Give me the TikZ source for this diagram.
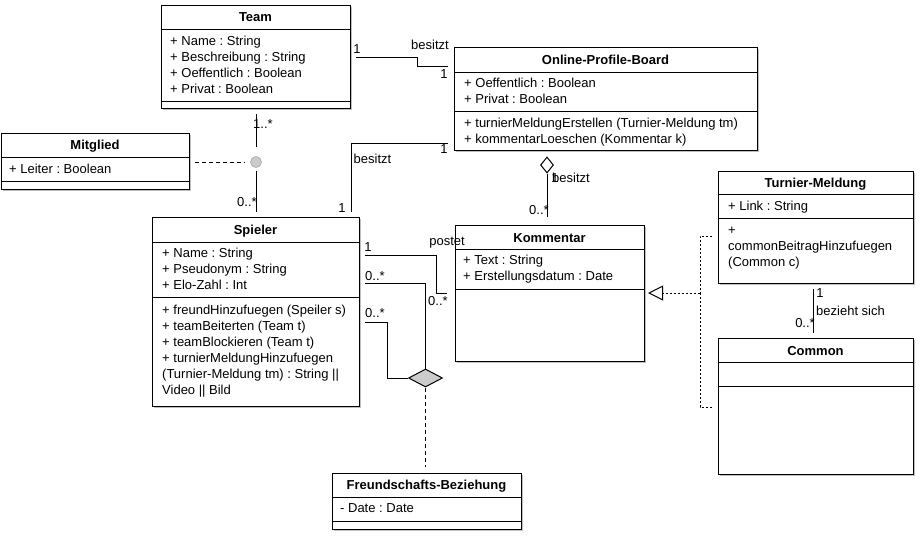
\documentclass[tikz,border=0pt]{standalone}
\usepackage{fontspec}
\setmainfont{Liberation Sans}
\usetikzlibrary{calc,shapes.geometric,arrows.meta}
\frenchspacing

\tikzset{
  clsbox/.style={rectangle, draw=black, fill=white, line width=1pt, inner sep=0pt, outer sep=0pt},
  clsrule/.style={line width=1pt},
  clsshadow/.style={fill=black!25},
  clstitle/.style={font=\fontsize{13}{16}\selectfont\bfseries, inner sep=0pt, anchor=base},
  clsitem/.style={font=\fontsize{13}{16}\selectfont, inner sep=0pt, anchor=base west},
  lbl/.style={font=\fontsize{13}{16}\selectfont, inner sep=0pt},
  assoc/.style={line width=1pt, shorten <=6pt},
  dashlink/.style={line width=1pt, dash pattern=on 4pt off 3pt},
  dotlink/.style={line width=1pt, dash pattern=on 2pt off 2pt},
  joint/.style={circle, fill=black!20, draw=black!35, line width=0.6pt, minimum size=11pt, inner sep=0pt},
  aggr/.style={diamond, draw=black, fill=white, line width=1pt, minimum width=13pt, minimum height=16pt, inner sep=0pt},
  assocdia/.style={diamond, draw=black, fill=black!20, line width=1pt, minimum width=34pt, minimum height=18pt, inner sep=0pt}
}

% class box: name, x1, y1, x2, y2, header rule y, attribute rule y, title, title baseline
\newcommand\umlclass[9]{%
  \fill[clsshadow] (#2+2,#3+2) rectangle (#4+2,#5+2);
  \node[clsbox, minimum width={(#4)-(#2)}, minimum height={(#5)-(#3)}] (#1) at ({(#2+#4)/2},{(#3+#5)/2}) {};
  \draw[clsrule] (#2,#6) -- (#4,#6) (#2,#7) -- (#4,#7);
  \node[clstitle] (#1-title) at ({(#2+#4)/2},#9) {#8};
}
% compartment lines: name prefix, x, first baseline, list of lines
\newcommand\umlitems[4]{%
  \foreach \txt [count=\i] in {#4} {
    \node[clsitem] (#1-\i) at (#2,{#3+16*(\i-1)}) {\txt};
  }
}

\begin{document}
\begin{tikzpicture}[x=1pt,y=-1pt]
\fill[white] (0,0) rectangle (916,538);
\useasboundingbox (0,0) rectangle (916,538);

% classes
\umlclass{team}{161}{5}{350}{108}{29}{101}{Team}{21.5}
\umlitems{team-a}{170}{45.5}{{+ Name : String},{+ Beschreibung : String},{+ Oeffentlich : Boolean},{+ Privat : Boolean}}

\umlclass{opb}{454}{47}{757}{150}{72}{111}{Online-Profile-Board}{64}
\umlitems{opb-a}{464}{87.5}{{+ Oeffentlich : Boolean},{+ Privat : Boolean}}
\umlitems{opb-o}{464}{127.5}{{+ turnierMeldungErstellen (Turnier-Meldung tm)},{+ kommentarLoeschen (Kommentar k)}}

\umlclass{mitglied}{1}{133}{189}{189}{157}{181}{Mitglied}{149}
\umlitems{mitglied-a}{9}{173}{{+ Leiter : Boolean}}

\umlclass{spieler}{152}{217}{359}{406}{242}{297}{Spieler}{234}
\umlitems{spieler-a}{162}{257.5}{{+ Name : String},{+ Pseudonym : String},{+ Elo-Zahl : Int}}
\umlitems{spieler-o}{162}{314}{{+ freundHinzufuegen (Speiler s)},{+ teamBeiterten (Team t)},{+ teamBlockieren (Team t)},{+ turnierMeldungHinzufuegen},{(Turnier-Meldung tm) : String ||},{Video || Bild}}

\umlclass{kommentar}{455}{225}{644}{361}{249}{289}{Kommentar}{242}
\umlitems{kommentar-a}{463}{264.5}{{+ Text : String},{+ Erstellungsdatum : Date}}

\umlclass{turnier}{718}{171}{913}{283}{194}{218}{Turnier-Meldung}{187}
\umlitems{turnier-a}{728}{210.5}{{+ Link : String}}
\umlitems{turnier-o}{728}{234}{{+},{commonBeitragHinzufuegen},{(Common c)}}

\umlclass{common}{718}{338}{913}{474}{362}{386}{Common}{355}

\umlclass{freund}{332}{473}{521}{529}{497}{521}{Freundschafts-Beziehung}{489}
\umlitems{freund-a}{340}{512.5}{{- Date : Date}}

% connector glyphs
\node[joint] (mjoint) at (256,162) {};
\node[aggr] (opbagg) at (547,165) {};
\node[assocdia] (frdia) at (425.5,378) {};
\coordinate (realjoin) at (700,293);

% Team -- Online-Profile-Board
\draw[assoc, shorten >=6pt] (team.east |- 0,57) -- (417,57) -- (417,66) -- (opb.west |- 0,66);
\node[lbl] (l-t1) at (357,49) {1};
\node[lbl] (l-t2) at (430,45) {besitzt};
\node[lbl] (l-t3) at (444,74) {1};

% Online-Profile-Board -- Spieler
\draw[assoc, shorten >=5pt] (opb.west |- 0,143) -| (spieler.north -| 351,0);
\node[lbl] (l-s1) at (444,149) {1};
\node[lbl] (l-s2) at (372.5,159) {besitzt};
\node[lbl] (l-s3) at (342,208) {1};

% Team -- Spieler with association class Mitglied
\draw[assoc, shorten >=9pt] (team.south -| mjoint) -- (mjoint);
\draw[line width=1pt, shorten <=3pt, shorten >=5pt] (mjoint) -- (spieler.north -| mjoint);
\draw[dashlink, shorten <=6pt, shorten >=6pt] (mitglied.east |- mjoint) -- (mjoint);
\node[lbl] (l-m1) at (263,124) {1..*};
\node[lbl] (l-m2) at (247,202) {0..*};

% Spieler -- Kommentar (postet)
\draw[assoc, shorten >=8pt] (spieler.east |- 0,255) -| (436,293) -- (kommentar.west |- 0,293);
\node[lbl] (l-p1) at (368,247) {1};
\node[lbl] (l-p2) at (447,243) {postet};
\node[lbl] (l-p3) at (438,301) {0..*};

% Spieler -- Spieler via Freundschafts-Beziehung
\draw[assoc] (spieler.east |- 0,283) -| (frdia.north);
\draw[assoc] (spieler.east |- 0,322) -| (387,378) -- (frdia.west);
\draw[dashlink, shorten >=6pt] (frdia.south) -- (freund.north -| frdia);
\node[lbl] (l-f1) at (375,276) {0..*};
\node[lbl] (l-f2) at (375,313) {0..*};

% Online-Profile-Board <>-- Kommentar
\draw[line width=1pt, shorten >=8pt] (opbagg.south) -- (kommentar.north -| opbagg);
\node[lbl] (l-k2) at (571,178) {besitzt};
\node[lbl] (l-k1) at (555,178) {1};
\node[lbl] (l-k3) at (539,210) {0..*};

% Turnier-Meldung and Common realise Kommentar
\draw[dotlink, shorten <=6pt] (turnier.west |- 0,236) -| (realjoin);
\draw[dotlink, shorten <=6pt] (common.west |- 0,407) -| (realjoin);
\draw[dotlink, shorten >=4pt, -{Triangle[open, length=15pt, width=15pt, line width=1pt]}] (realjoin) -- (kommentar.east |- realjoin);

% Turnier-Meldung -- Common
\draw[assoc, shorten >=5pt] (turnier.south -| 813,0) -- (common.north -| 813,0);
\node[lbl] (l-c1) at (820,293) {1};
\node[lbl, anchor=west] (l-c2) at (816,311) {bezieht sich};
\node[lbl] (l-c3) at (805,323) {0..*};
\end{tikzpicture}
\end{document}
